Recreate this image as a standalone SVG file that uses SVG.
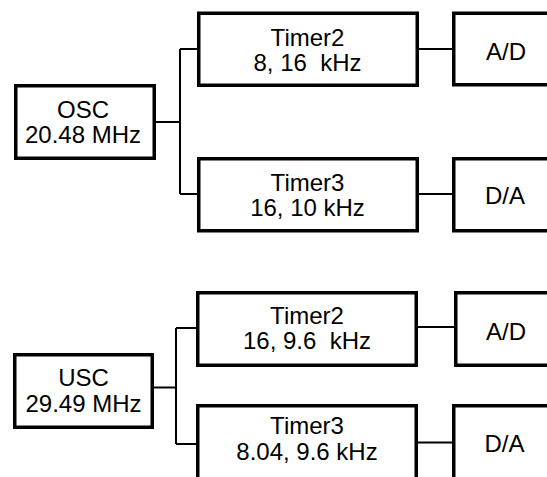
<svg xmlns="http://www.w3.org/2000/svg" width="547" height="477" viewBox="0 0 547 477">
<style>
.box{fill:#fff;stroke:#000;stroke-width:3.5}
.ln{fill:none;stroke:#000;stroke-width:2}
text{font-family:"Liberation Sans",Arial,sans-serif;font-size:24px;fill:#000;text-anchor:middle;white-space:pre}
</style>
<rect width="547" height="477" fill="#fff"/>
<g id="connectors">
<path class="ln" d="M156 122H180M180 49V194M180 49H197M180 194H197M418 49H452M418 194H452"/>
<path class="ln" d="M151 387.5H176M176 328V444M176 328H196M176 444H196M418 327H454M418 442.5H452"/>
</g>
<g id="osc"><rect class="box" x="15.75" y="85.75" width="138.5" height="72.5"/><text x="83" y="117.5">OSC</text><text x="83" y="142.5">20.48 MHz</text></g>
<g id="timer2a"><rect class="box" x="198.75" y="13.25" width="218.5" height="72"/><text x="307.5" y="46">Timer2</text><text x="307.5" y="71" xml:space="preserve">8, 16  kHz</text></g>
<g id="timer3a"><rect class="box" x="198.75" y="158.75" width="218.5" height="72"/><text x="307.5" y="191">Timer3</text><text x="307.5" y="216">16, 10 kHz</text></g>
<g id="ada"><rect class="box" x="453.75" y="13.25" width="120" height="71.5"/><text x="506" y="59.5">A/D</text></g>
<g id="daa"><rect class="box" x="453.75" y="158.75" width="120" height="72"/><text x="505" y="204">D/A</text></g>
<g id="usc"><rect class="box" x="14.75" y="354.75" width="137.5" height="72.5"/><text x="83.5" y="386">USC</text><text x="83.5" y="412">29.49 MHz</text></g>
<g id="timer2b"><rect class="box" x="197.75" y="292.75" width="218.5" height="72.5"/><text x="307" y="323.5">Timer2</text><text x="307" y="348.5" xml:space="preserve">16, 9.6  kHz</text></g>
<g id="timer3b"><rect class="box" x="197.75" y="405.75" width="218.5" height="80"/><text x="307" y="434">Timer3</text><text x="307" y="460">8.04, 9.6 kHz</text></g>
<g id="adb"><rect class="box" x="455.75" y="292.75" width="120" height="72.5"/><text x="506" y="339.5">A/D</text></g>
<g id="dab"><rect class="box" x="453.75" y="405.75" width="120" height="80"/><text x="504.5" y="451.5">D/A</text></g>
</svg>
